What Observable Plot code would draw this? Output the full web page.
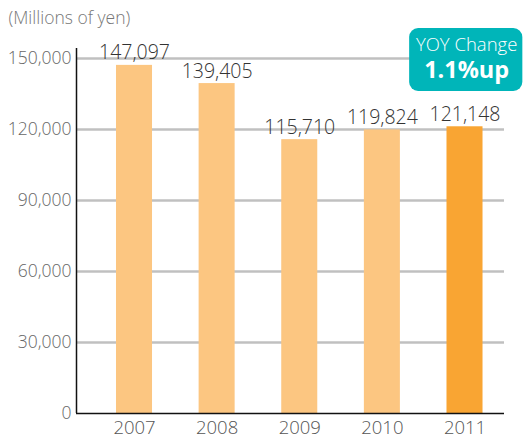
<!DOCTYPE html>
<html>
<head>
<meta charset="utf-8">
<script src="https://cdn.jsdelivr.net/npm/d3@7"></script>
<script src="https://cdn.jsdelivr.net/npm/@observablehq/plot@0.6"></script>
<style>
  html, body { margin: 0; padding: 0; background: #fff; }
  svg { display: block; }
</style>
</head>
<body>
<div id="chart"></div>
<script>
const years = [2007, 2008, 2009, 2010, 2011];
const values = [147097, 139405, 115710, 119824, 121148];
const yTicks = [0, 30000, 60000, 90000, 120000, 150000];
const gridTicks = [30000, 60000, 90000, 120000, 150000];
const unitLabel = "(Millions of yen)";
const yoyTitle = ["YOY Change"];
const yoyValue = ["1.1%up"];
const highlightYear = 2011;

const data = years.map((year, i) => ({year, value: values[i]}));
const note = [{year: highlightYear, title: yoyTitle[0], value: yoyValue[0]}];

const font = "'Open Sans', 'Noto Sans', sans-serif";
const xMin = 2006.298, xMax = 2011.478, half = 0.218;

const chart = Plot.plot({
  width: 524,
  height: 443,
  marginLeft: 76,
  marginRight: 20,
  marginTop: 58,
  marginBottom: 30,
  style: {fontFamily: font, background: "#fff", overflow: "visible", fontWeight: 300},
  x: {domain: [xMin, xMax], axis: null},
  y: {domain: [0, 150000], axis: null},
  marks: [
    Plot.ruleY(gridTicks, {stroke: "#c0c0c0", strokeWidth: 2.5}),
    Plot.rectY(data, {
      x1: d => d.year - half, x2: d => d.year + half, y1: 0, y2: "value",
      fill: d => d.year === highlightYear ? "#f9a533" : "#fcc681"
    }),
    Plot.text(data, {
      x: "year", y: "value", text: d => d3.format(",")(d.value),
      lineAnchor: "bottom", dy: -6, fontSize: 19.5, fill: "#333", fontWeight: 300
    }),
    Plot.ruleX([xMin], {y1: 0, y2: 154225, stroke: "#111", strokeWidth: 1.5}),
    Plot.ruleY([0], {x1: xMin, x2: xMax, stroke: "#111", strokeWidth: 1.5}),
    Plot.text(yTicks, {
      x: xMin, y: d => d, text: d => d3.format(",")(d),
      textAnchor: "end", dx: -5, fontSize: 17.5, fill: "#666", fontWeight: 300
    }),
    Plot.text(years, {
      x: d => d, y: 0, text: d => String(d),
      lineAnchor: "top", dy: 7, fontSize: 18.5, fill: "#555", fontWeight: 300
    }),
    Plot.text([unitLabel], {
      x: xMin, y: 150000, text: d => d, textAnchor: "start",
      dx: -68, dy: -40, fontSize: 17.5, fill: "#777", fontWeight: 300
    }),
    Plot.rect(note, {
      x1: d => d.year - 0.67, x2: d => d.year + 0.7,
      y1: 136056, y2: 162676, fill: "#00b5b9", rx: 9
    }),
    Plot.text(note, {
      x: d => d.year + 0.02, y: 155600, text: "title",
      fontSize: 18.5, fill: "#fff", fontWeight: 300
    }),
    Plot.text(note, {
      x: d => d.year + 0.02, y: 144800, text: "value",
      fontSize: 23.5, fontWeight: "bold", fill: "#fff"
    })
  ]
});
document.getElementById("chart").appendChild(chart);
</script>
</body>
</html>
